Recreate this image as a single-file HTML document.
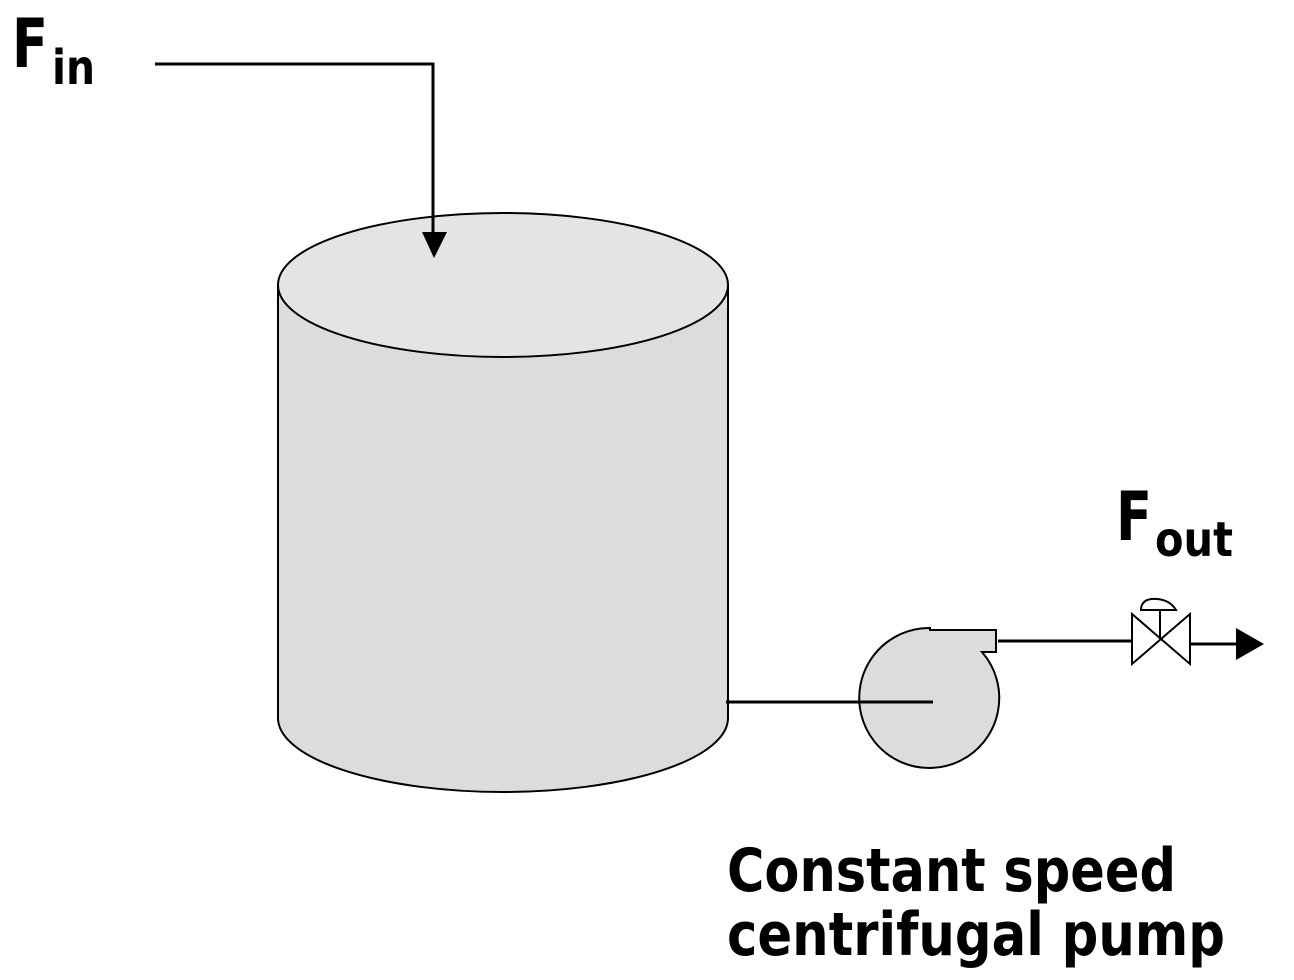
<!DOCTYPE html>
<html><head><style>html,body{margin:0;padding:0;background:#fff;}svg{display:block}</style></head>
<body>
<svg width="1294" height="980" viewBox="0 0 1294 980" xmlns="http://www.w3.org/2000/svg" font-family="'DejaVu Sans','Liberation Sans',sans-serif" font-weight="bold">
<!-- tank -->
<path d="M278 285 L278 718 A225 74 0 0 0 728 718 L728 285 Z" fill="#dcdcdc" stroke="#000" stroke-width="2"/>
<ellipse cx="503" cy="285" rx="225" ry="72" fill="#e4e4e4" stroke="#000" stroke-width="2"/>
<!-- inlet -->
<polyline points="155,64 433,64 433,234" fill="none" stroke="#000" stroke-width="3"/>
<polygon points="422,232 447,232 434,258" fill="#000"/>
<!-- pump -->
<path d="M930 630 L996 630 L996 652 L982 652 A70 70 0 1 1 930 628 Z" fill="#dcdcdc" stroke="#000" stroke-width="2"/>
<line x1="726" y1="702" x2="933" y2="702" stroke="#000" stroke-width="3"/>
<line x1="998" y1="641" x2="1131" y2="641" stroke="#000" stroke-width="3"/>
<!-- valve -->
<polygon points="1132,614 1190,664 1190,614 1132,664" fill="#fff" stroke="#000" stroke-width="2"/>
<line x1="1160" y1="639" x2="1160" y2="609" stroke="#000" stroke-width="2"/>
<path d="M1141 610 Q1141 598 1157 599 Q1170 600 1176 610 Z" fill="#fff" stroke="#000" stroke-width="2"/>
<line x1="1191" y1="644" x2="1238" y2="644" stroke="#000" stroke-width="3"/>
<polygon points="1236,628 1264,644 1236,660" fill="#000"/>
<!-- labels -->
<text x="12" y="67" font-size="68" textLength="36" lengthAdjust="spacingAndGlyphs">F</text>
<text x="52" y="84" font-size="48" textLength="43" lengthAdjust="spacingAndGlyphs">in</text>
<text x="1116" y="540" font-size="68" textLength="36" lengthAdjust="spacingAndGlyphs">F</text>
<text x="1155" y="556" font-size="48" textLength="78" lengthAdjust="spacingAndGlyphs">out</text>
<text x="727" y="891" font-size="60" textLength="449" lengthAdjust="spacingAndGlyphs">Constant speed</text>
<text x="727" y="955" font-size="60" textLength="498" lengthAdjust="spacingAndGlyphs">centrifugal pump</text>
</svg>
</body></html>
